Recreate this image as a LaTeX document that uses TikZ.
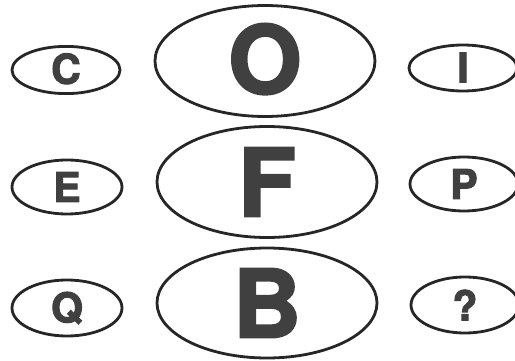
\documentclass[tikz,border=0pt]{standalone}
\usepackage{fontspec}
\setmainfont{TeX Gyre Heros}[BoldFeatures={FakeBold=2.5}]
\usetikzlibrary{shapes.geometric}
\tikzset{
  oval/.style={ellipse, draw=black!85, line width=2.8pt, inner sep=0pt},
  smalloval/.style={oval, minimum width=108pt, minimum height=50pt, font=\fontsize{41}{41}\selectfont\bfseries, text=black!75},
  bigoval/.style={oval, minimum width=220pt, minimum height=111pt, font=\fontsize{94}{94}\selectfont\bfseries, text=black!75},
}
\begin{document}
\begin{tikzpicture}[x=1pt,y=1pt]
\useasboundingbox[clip] (0,0) rectangle (515,-361);
\fill[white] (0,0) rectangle (515,-361);
\node[smalloval, minimum height=46pt] (c) at (66,-70) {\raisebox{3pt}{C}};
\node[bigoval] (o) at (265,-61) {\raisebox{5pt}{O}};
\node[smalloval, minimum height=46pt] (i) at (463,-68) {\raisebox{1pt}{I}};
\node[smalloval, minimum width=110pt, minimum height=54pt] (e) at (67,-187) {E};
\node[bigoval] (f) at (267,-182) {F};
\node[smalloval, minimum height=54pt] (p) at (464,-184) {P};
\node[smalloval, minimum width=110pt, minimum height=56pt] (q) at (67,-308) {Q};
\node[bigoval, minimum height=110pt] (b) at (267,-303) {B};
\node[smalloval, minimum height=56pt] (qm) at (465,-305) {?};
\end{tikzpicture}
\end{document}
